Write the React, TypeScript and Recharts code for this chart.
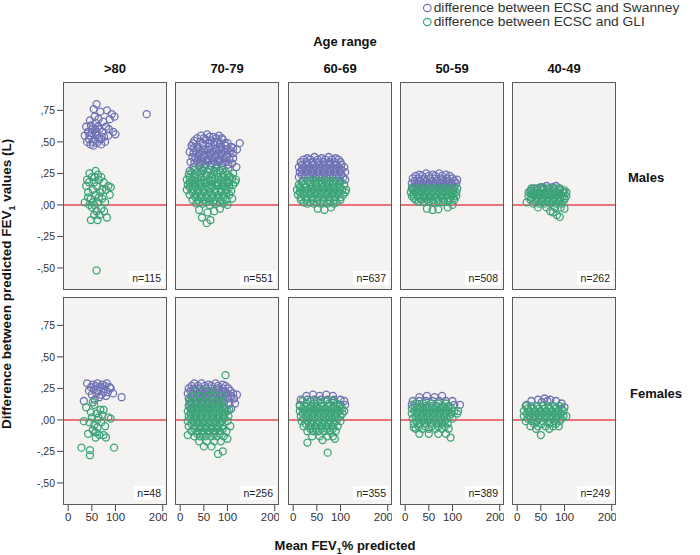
import { ScatterChart, Scatter, XAxis, YAxis, CartesianGrid, ReferenceLine } from "recharts";

const ageRanges = [">80", "70-79", "60-69", "50-59", "40-49"];
const sexes = ["Males", "Females"];
const maleCounts = [115, 551, 637, 508, 262];
const femaleCounts = [48, 256, 355, 389, 249];
const xTicks = [0, 50, 100, 150, 200];
const yTicks = [-0.5, -0.25, 0, 0.25, 0.5, 0.75];

// [mean FEV1 % predicted, difference (L)]
const maleSwanney80 = [
  [45, 0.55], [50, 0.6], [55, 0.52], [60, 0.58], [48, 0.63], [52, 0.5], [58, 0.65], [62, 0.55], [66, 0.6], [70, 0.52],
  [42, 0.58], [38, 0.62], [44, 0.52], [56, 0.7], [64, 0.68], [72, 0.58], [76, 0.54], [80, 0.62], [85, 0.55], [88, 0.68],
  [92, 0.72], [82, 0.75], [68, 0.74], [60, 0.8], [54, 0.76], [47, 0.48], [53, 0.47], [61, 0.49], [70, 0.48], [78, 0.5],
  [95, 0.58], [100, 0.56], [35, 0.55], [40, 0.5], [74, 0.66], [86, 0.6], [50, 0.57], [58, 0.56], [65, 0.53], [46, 0.67],
  [98, 0.7], [166, 0.72], [63, 0.62], [57, 0.6],
];
const maleGli80 = [
  [40, 0.2], [45, 0.25], [50, 0.22], [55, 0.18], [60, 0.15], [65, 0.2], [70, 0.22], [75, 0.18], [80, 0.12], [85, 0.15],
  [42, 0.1], [48, 0.05], [52, 0.12], [58, 0.08], [62, 0.02], [68, 0.1], [72, 0.05], [78, 0.02], [45, 0.0], [50, -0.02],
  [55, 0.0], [60, -0.05], [66, -0.08], [70, -0.03], [76, -0.05], [82, -0.1], [55, -0.08], [48, -0.12], [35, 0.02], [38, 0.15],
  [44, 0.18], [63, 0.24], [72, 0.12], [58, 0.27], [52, 0.02], [65, 0.06], [88, 0.08], [90, 0.14], [62, -0.12], [60, -0.52],
  [42, 0.06], [56, 0.22],
];
const maleSwanney70 = [
  [44, 0.55], [57, 0.56], [70, 0.54], [82, 0.55],
  [30, 0.51], [42, 0.5], [54, 0.52], [66, 0.51], [78, 0.5], [90, 0.52], [100, 0.49], [126, 0.49],
  [24, 0.47], [36, 0.46], [48, 0.47], [60, 0.46], [72, 0.48], [84, 0.46], [96, 0.47], [108, 0.46],
  [20, 0.42], [34, 0.43], [46, 0.42], [58, 0.43], [70, 0.42], [82, 0.43], [94, 0.42], [106, 0.43], [120, 0.44],
  [26, 0.38], [38, 0.39], [50, 0.38], [62, 0.39], [74, 0.38], [86, 0.39], [98, 0.38], [112, 0.37],
  [22, 0.34], [36, 0.35], [48, 0.34], [60, 0.35], [72, 0.34], [84, 0.35], [96, 0.34], [110, 0.33],
  [28, 0.3], [40, 0.31], [52, 0.3], [64, 0.31], [76, 0.3], [88, 0.31], [102, 0.29], [119, 0.3],
  [20, 0.27], [46, 0.27], [72, 0.27],
  [36, 0.53], [50, 0.53], [62, 0.54], [76, 0.53], [88, 0.53],
  [27, 0.49], [48, 0.49], [60, 0.49], [72, 0.5], [84, 0.49], [94, 0.49],
  [28, 0.45], [40, 0.45], [52, 0.44], [64, 0.45], [76, 0.44], [88, 0.45], [100, 0.44], [112, 0.45],
  [28, 0.41], [40, 0.41], [52, 0.4], [64, 0.41], [76, 0.4], [88, 0.41], [100, 0.4], [112, 0.41],
  [32, 0.37], [44, 0.37], [56, 0.36], [68, 0.37], [80, 0.36], [92, 0.37], [104, 0.36],
  [30, 0.33], [42, 0.33], [54, 0.32], [66, 0.33], [78, 0.32], [90, 0.33], [102, 0.32],
];
const maleGli70 = [
  [30, 0.28], [45, 0.29], [60, 0.28], [75, 0.29], [90, 0.28],
  [18, 0.24], [30, 0.24], [42, 0.25], [54, 0.24], [66, 0.24], [78, 0.25], [90, 0.24], [102, 0.24], [112, 0.25],
  [14, 0.2], [26, 0.2], [38, 0.21], [50, 0.2], [62, 0.2], [74, 0.21], [86, 0.2], [98, 0.2], [110, 0.21], [118, 0.2],
  [16, 0.16], [28, 0.16], [40, 0.16], [52, 0.17], [64, 0.16], [76, 0.16], [88, 0.16], [100, 0.17], [112, 0.16],
  [14, 0.12], [26, 0.12], [38, 0.12], [50, 0.12], [62, 0.13], [74, 0.12], [86, 0.12], [98, 0.12], [108, 0.11],
  [20, 0.08], [32, 0.08], [44, 0.08], [56, 0.08], [68, 0.08], [80, 0.08], [92, 0.08], [104, 0.08],
  [26, 0.04], [38, 0.04], [50, 0.04], [62, 0.04], [74, 0.04], [86, 0.04], [98, 0.04],
  [34, 0.01], [48, 0.01], [62, 0.0], [76, 0.01], [92, 0.01],
  [40, -0.04], [58, -0.06], [72, -0.05], [46, -0.1], [64, -0.12], [56, -0.145], [84, -0.03], [100, 0.0], [110, 0.05],
  [24, 0.26], [36, 0.26], [48, 0.27], [60, 0.26], [72, 0.26], [84, 0.27], [96, 0.26],
  [20, 0.22], [32, 0.22], [44, 0.22], [56, 0.23], [68, 0.22], [80, 0.22], [92, 0.22], [104, 0.22],
  [20, 0.18], [32, 0.18], [44, 0.18], [56, 0.18], [68, 0.19], [80, 0.18], [92, 0.18], [104, 0.18], [116, 0.18],
  [20, 0.14], [32, 0.14], [44, 0.14], [56, 0.14], [68, 0.14], [80, 0.15], [92, 0.14], [104, 0.14],
  [26, 0.1], [38, 0.1], [50, 0.1], [62, 0.1], [74, 0.1], [86, 0.1], [98, 0.1],
  [32, 0.06], [44, 0.06], [56, 0.06], [68, 0.06], [80, 0.06], [92, 0.06],
  [40, 0.02], [55, 0.02], [70, 0.02], [84, 0.02],
];
const maleSwanney60 = [
  [30, 0.37], [45, 0.38], [60, 0.37], [75, 0.38], [90, 0.37],
  [16, 0.34], [28, 0.34], [40, 0.34], [52, 0.34], [64, 0.34], [76, 0.34], [88, 0.34], [100, 0.34],
  [12, 0.3], [24, 0.3], [36, 0.3], [48, 0.3], [60, 0.3], [72, 0.3], [84, 0.3], [96, 0.3], [108, 0.3],
  [14, 0.26], [26, 0.26], [38, 0.26], [50, 0.26], [62, 0.26], [74, 0.26], [86, 0.26], [98, 0.26], [110, 0.26],
  [12, 0.22], [24, 0.22], [36, 0.22], [48, 0.22], [60, 0.22], [72, 0.22], [84, 0.22], [96, 0.22], [106, 0.22],
  [20, 0.19], [100, 0.19], [110, 0.2],
  [22, 0.36], [36, 0.36], [52, 0.36], [68, 0.36], [82, 0.36], [96, 0.36],
  [18, 0.32], [30, 0.32], [42, 0.32], [54, 0.32], [66, 0.32], [78, 0.32], [90, 0.32], [102, 0.32],
  [18, 0.28], [30, 0.28], [42, 0.28], [54, 0.28], [66, 0.28], [78, 0.28], [90, 0.28], [102, 0.28],
  [18, 0.24], [30, 0.24], [42, 0.24], [54, 0.24], [66, 0.24], [78, 0.24], [90, 0.24], [102, 0.24],
];
const maleGli60 = [
  [30, 0.19], [42, 0.2], [54, 0.19], [66, 0.2], [78, 0.19], [90, 0.19],
  [12, 0.16], [24, 0.16], [36, 0.16], [48, 0.16], [60, 0.16], [72, 0.16], [84, 0.16], [96, 0.16], [108, 0.16],
  [8, 0.12], [20, 0.12], [32, 0.12], [44, 0.12], [56, 0.12], [68, 0.12], [80, 0.12], [92, 0.12], [104, 0.12], [112, 0.12],
  [10, 0.08], [22, 0.08], [34, 0.08], [46, 0.08], [58, 0.08], [70, 0.08], [82, 0.08], [94, 0.08], [106, 0.08],
  [16, 0.04], [28, 0.04], [40, 0.04], [52, 0.04], [64, 0.04], [76, 0.04], [88, 0.04], [100, 0.04],
  [30, 0.01], [44, 0.01], [58, 0.01], [72, 0.01], [86, 0.01],
  [52, -0.03], [66, -0.04], [80, -0.02],
  [18, 0.18], [36, 0.18], [48, 0.18], [60, 0.18], [72, 0.18], [84, 0.18], [100, 0.18],
  [14, 0.14], [26, 0.14], [38, 0.14], [50, 0.14], [62, 0.14], [74, 0.14], [86, 0.14], [98, 0.14],
  [14, 0.1], [26, 0.1], [38, 0.1], [50, 0.1], [62, 0.1], [74, 0.1], [86, 0.1], [98, 0.1], [110, 0.1],
  [16, 0.06], [28, 0.06], [40, 0.06], [52, 0.06], [64, 0.06], [76, 0.06], [88, 0.06], [100, 0.06],
  [22, 0.02], [36, 0.02], [50, 0.02], [64, 0.02], [78, 0.02], [92, 0.02],
];
const maleSwanney50 = [
  [30, 0.24], [44, 0.25], [58, 0.24], [72, 0.25], [86, 0.24],
  [16, 0.21], [28, 0.21], [40, 0.21], [52, 0.21], [64, 0.21], [76, 0.21], [88, 0.21], [100, 0.21], [110, 0.2],
  [14, 0.17], [26, 0.17], [38, 0.17], [50, 0.17], [62, 0.17], [74, 0.17], [86, 0.17], [98, 0.17], [108, 0.17],
  [16, 0.14], [40, 0.14], [80, 0.14], [104, 0.14],
  [22, 0.23], [36, 0.23], [50, 0.23], [64, 0.23], [78, 0.23], [94, 0.23],
  [20, 0.19], [32, 0.19], [44, 0.19], [56, 0.19], [68, 0.19], [80, 0.19], [92, 0.19], [104, 0.19],
  [22, 0.15], [34, 0.15], [46, 0.15], [58, 0.15], [70, 0.15], [82, 0.15], [94, 0.15],
];
const maleGli50 = [
  [14, 0.13], [26, 0.13], [38, 0.13], [50, 0.13], [62, 0.13], [74, 0.13], [86, 0.13], [98, 0.13], [110, 0.13],
  [12, 0.1], [24, 0.1], [36, 0.1], [48, 0.1], [60, 0.1], [72, 0.1], [84, 0.1], [96, 0.1], [108, 0.1],
  [14, 0.07], [26, 0.07], [38, 0.07], [50, 0.07], [62, 0.07], [74, 0.07], [86, 0.07], [98, 0.07], [108, 0.07],
  [22, 0.04], [34, 0.04], [46, 0.04], [58, 0.04], [70, 0.04], [82, 0.04], [94, 0.04], [104, 0.04],
  [40, 0.02], [60, 0.02], [80, 0.02],
  [46, -0.03], [58, -0.04], [70, -0.035], [90, -0.02], [100, 0.0],
  [18, 0.115], [30, 0.115], [42, 0.115], [54, 0.115], [66, 0.115], [78, 0.115], [90, 0.115], [102, 0.115],
  [18, 0.085], [30, 0.085], [42, 0.085], [54, 0.085], [66, 0.085], [78, 0.085], [90, 0.085], [102, 0.085],
  [18, 0.055], [30, 0.055], [42, 0.055], [54, 0.055], [66, 0.055], [78, 0.055], [90, 0.055], [102, 0.055],
  [28, 0.025], [50, 0.025], [70, 0.025], [90, 0.025],
];
const maleSwanney40 = [
  [35, 0.13], [50, 0.14], [62, 0.15], [75, 0.14], [88, 0.13], [98, 0.1], [28, 0.11], [56, 0.13], [82, 0.15],
];
const maleGli40 = [
  [30, 0.13], [42, 0.13], [54, 0.14], [66, 0.13], [78, 0.13], [90, 0.13],
  [24, 0.1], [36, 0.1], [48, 0.1], [60, 0.1], [72, 0.1], [84, 0.1], [96, 0.1], [104, 0.1],
  [24, 0.07], [36, 0.07], [48, 0.07], [60, 0.07], [72, 0.07], [84, 0.07], [96, 0.07], [104, 0.07],
  [28, 0.04], [40, 0.04], [52, 0.04], [64, 0.04], [76, 0.04], [88, 0.04], [100, 0.04],
  [34, 0.01], [46, 0.01], [58, 0.01], [70, 0.01], [82, 0.01], [94, 0.01],
  [44, -0.02], [62, -0.02], [80, -0.02], [92, -0.02],
  [20, 0.02], [76, -0.06], [84, -0.08], [90, -0.095], [70, -0.05], [100, -0.03],
  [30, 0.115], [42, 0.115], [54, 0.115], [66, 0.115], [78, 0.115], [90, 0.115], [100, 0.115],
  [30, 0.085], [42, 0.085], [54, 0.085], [66, 0.085], [78, 0.085], [90, 0.085],
  [30, 0.055], [42, 0.055], [54, 0.055], [66, 0.055], [78, 0.055], [90, 0.055], [100, 0.055],
  [40, 0.025], [52, 0.025], [64, 0.025], [76, 0.025], [88, 0.025],
];
const femaleSwanney80 = [
  [40, 0.29], [52, 0.28], [62, 0.29], [72, 0.28], [82, 0.29], [48, 0.26], [58, 0.27], [68, 0.26], [78, 0.27], [88, 0.26],
  [44, 0.23], [54, 0.24], [64, 0.23], [74, 0.24], [84, 0.22], [50, 0.2], [60, 0.21], [70, 0.2], [80, 0.19], [66, 0.18],
  [90, 0.25], [113, 0.18], [33, 0.15], [56, 0.16], [75, 0.22], [95, 0.21],
];
const femaleGli80 = [
  [38, 0.1], [55, 0.12], [60, 0.05], [68, 0.08], [72, 0.04], [50, 0.02], [45, -0.02], [55, -0.04], [62, 0.0], [70, -0.02],
  [78, -0.05], [85, 0.02], [48, 0.06], [58, -0.1], [66, -0.12], [75, -0.12], [80, -0.14], [42, -0.11], [52, -0.08], [62, -0.06],
  [90, 0.01], [33, -0.01], [58, -0.14], [28, -0.22], [46, -0.24], [46, -0.28], [97, -0.22], [64, 0.02], [75, 0.08], [52, 0.14],
];
const femaleSwanney70 = [
  [30, 0.29], [45, 0.29], [60, 0.28], [75, 0.29], [90, 0.28],
  [18, 0.25], [30, 0.25], [42, 0.25], [54, 0.25], [66, 0.25], [78, 0.25], [90, 0.25], [102, 0.25],
  [16, 0.21], [28, 0.21], [40, 0.21], [52, 0.21], [64, 0.21], [76, 0.21], [88, 0.21], [100, 0.21], [112, 0.21], [120, 0.2],
  [18, 0.17], [30, 0.17], [42, 0.17], [54, 0.17], [66, 0.17], [78, 0.17], [90, 0.17], [102, 0.17], [114, 0.17],
  [20, 0.13], [32, 0.13], [44, 0.13], [56, 0.13], [68, 0.13], [80, 0.13], [92, 0.13], [104, 0.13], [116, 0.13],
  [24, 0.09], [60, 0.09], [96, 0.09], [108, 0.09],
  [24, 0.27], [38, 0.27], [52, 0.27], [66, 0.27], [80, 0.27], [96, 0.27],
  [22, 0.23], [34, 0.23], [46, 0.23], [58, 0.23], [70, 0.23], [82, 0.23], [94, 0.23], [106, 0.23],
  [24, 0.19], [36, 0.19], [48, 0.19], [60, 0.19], [72, 0.19], [84, 0.19], [96, 0.19], [108, 0.19],
];
const femaleGli70 = [
  [34, 0.23], [52, 0.23], [70, 0.23],
  [24, 0.19], [40, 0.19], [56, 0.19], [72, 0.19], [88, 0.19],
  [20, 0.15], [34, 0.15], [48, 0.15], [62, 0.15], [76, 0.15], [90, 0.15],
  [18, 0.11], [30, 0.11], [42, 0.11], [54, 0.11], [66, 0.11], [78, 0.11], [90, 0.11],
  [16, 0.07], [28, 0.07], [40, 0.07], [52, 0.07], [64, 0.07], [76, 0.07], [88, 0.07], [100, 0.07],
  [18, 0.03], [30, 0.03], [42, 0.03], [54, 0.03], [66, 0.03], [78, 0.03], [90, 0.03], [102, 0.03],
  [16, -0.01], [28, -0.01], [40, -0.01], [52, -0.01], [64, -0.01], [76, -0.01], [88, -0.01], [100, -0.01],
  [18, -0.05], [30, -0.05], [42, -0.05], [54, -0.05], [66, -0.05], [78, -0.05], [90, -0.05],
  [24, -0.09], [36, -0.09], [48, -0.09], [60, -0.09], [72, -0.09], [84, -0.09], [98, -0.09],
  [30, -0.13], [42, -0.13], [54, -0.13], [66, -0.13], [78, -0.13], [92, -0.13],
  [40, -0.17], [56, -0.17], [72, -0.17], [86, -0.17],
  [50, -0.21], [66, -0.21],
  [96, 0.355], [80, -0.27], [90, -0.25], [16, -0.12], [100, -0.15], [106, -0.05], [104, 0.08],
  [24, 0.13], [36, 0.13], [48, 0.13], [60, 0.13], [72, 0.13], [84, 0.13],
  [22, 0.09], [34, 0.09], [46, 0.09], [58, 0.09], [70, 0.09], [82, 0.09], [94, 0.09],
  [22, 0.05], [34, 0.05], [46, 0.05], [58, 0.05], [70, 0.05], [82, 0.05], [94, 0.05],
  [22, 0.01], [34, 0.01], [46, 0.01], [58, 0.01], [70, 0.01], [82, 0.01], [94, 0.01],
  [24, -0.03], [36, -0.03], [48, -0.03], [60, -0.03], [72, -0.03], [84, -0.03],
  [30, -0.07], [42, -0.07], [54, -0.07], [66, -0.07], [78, -0.07], [90, -0.07],
  [36, -0.11], [48, -0.11], [60, -0.11], [72, -0.11], [84, -0.11],
];
const femaleSwanney60 = [
  [28, 0.19], [42, 0.2], [56, 0.19], [70, 0.2], [84, 0.19],
  [16, 0.16], [30, 0.16], [44, 0.16], [58, 0.16], [72, 0.16], [86, 0.16], [100, 0.16], [108, 0.15],
  [14, 0.12], [100, 0.12], [110, 0.12],
];
const femaleGli60 = [
  [20, 0.15], [36, 0.15], [52, 0.15], [68, 0.15], [84, 0.15],
  [14, 0.11], [26, 0.11], [38, 0.11], [50, 0.11], [62, 0.11], [74, 0.11], [86, 0.11], [98, 0.11],
  [14, 0.07], [26, 0.07], [38, 0.07], [50, 0.07], [62, 0.07], [74, 0.07], [86, 0.07], [98, 0.07], [108, 0.07],
  [16, 0.03], [28, 0.03], [40, 0.03], [52, 0.03], [64, 0.03], [76, 0.03], [88, 0.03], [100, 0.03],
  [18, -0.01], [30, -0.01], [42, -0.01], [54, -0.01], [66, -0.01], [78, -0.01], [90, -0.01], [100, -0.01],
  [22, -0.05], [34, -0.05], [46, -0.05], [58, -0.05], [70, -0.05], [82, -0.05], [94, -0.05],
  [30, -0.09], [42, -0.09], [54, -0.09], [66, -0.09], [78, -0.09], [90, -0.09],
  [40, -0.13], [56, -0.13], [72, -0.13], [84, -0.13],
  [30, -0.18], [73, -0.26], [62, -0.16], [88, -0.15],
  [28, 0.13], [44, 0.13], [60, 0.13], [76, 0.13], [92, 0.13],
  [20, 0.09], [32, 0.09], [44, 0.09], [56, 0.09], [68, 0.09], [80, 0.09], [92, 0.09], [104, 0.09],
  [20, 0.05], [32, 0.05], [44, 0.05], [56, 0.05], [68, 0.05], [80, 0.05], [92, 0.05], [104, 0.05],
  [22, 0.01], [34, 0.01], [46, 0.01], [58, 0.01], [70, 0.01], [82, 0.01], [94, 0.01],
  [26, -0.03], [38, -0.03], [50, -0.03], [62, -0.03], [74, -0.03], [86, -0.03],
  [36, -0.07], [48, -0.07], [60, -0.07], [72, -0.07], [84, -0.07],
];
const femaleSwanney50 = [
  [30, 0.18], [46, 0.19], [62, 0.18], [78, 0.19],
  [16, 0.15], [30, 0.15], [44, 0.15], [58, 0.15], [72, 0.15], [86, 0.15], [100, 0.15],
  [104, 0.12], [116, 0.12], [14, 0.12],
];
const femaleGli50 = [
  [22, 0.13], [38, 0.13], [54, 0.13], [70, 0.13], [86, 0.13],
  [14, 0.09], [26, 0.09], [38, 0.09], [50, 0.09], [62, 0.09], [74, 0.09], [86, 0.09], [98, 0.09],
  [14, 0.05], [26, 0.05], [38, 0.05], [50, 0.05], [62, 0.05], [74, 0.05], [86, 0.05], [98, 0.05], [110, 0.05],
  [16, 0.01], [28, 0.01], [40, 0.01], [52, 0.01], [64, 0.01], [76, 0.01], [88, 0.01], [100, 0.01],
  [18, -0.03], [30, -0.03], [42, -0.03], [54, -0.03], [66, -0.03], [78, -0.03], [90, -0.03],
  [22, -0.07], [36, -0.07], [50, -0.07], [64, -0.07], [78, -0.07], [92, -0.07],
  [30, -0.11], [50, -0.11], [70, -0.11], [86, -0.11],
  [96, -0.14], [18, -0.06], [112, 0.07],
  [20, 0.11], [32, 0.11], [44, 0.11], [56, 0.11], [68, 0.11], [80, 0.11], [92, 0.11],
  [20, 0.07], [32, 0.07], [44, 0.07], [56, 0.07], [68, 0.07], [80, 0.07], [92, 0.07], [104, 0.07],
  [22, 0.03], [34, 0.03], [46, 0.03], [58, 0.03], [70, 0.03], [82, 0.03], [94, 0.03],
  [24, -0.01], [36, -0.01], [48, -0.01], [60, -0.01], [72, -0.01], [84, -0.01],
  [28, -0.05], [42, -0.05], [56, -0.05], [70, -0.05], [84, -0.05],
];
const femaleSwanney40 = [
  [30, 0.15], [44, 0.16], [58, 0.17], [70, 0.16], [82, 0.15], [94, 0.13], [20, 0.12], [100, 0.1], [52, 0.14], [64, 0.15],
];
const femaleGli40 = [
  [18, 0.11], [30, 0.11], [42, 0.11], [54, 0.11], [66, 0.11], [78, 0.11], [90, 0.11],
  [14, 0.07], [26, 0.07], [38, 0.07], [50, 0.07], [62, 0.07], [74, 0.07], [86, 0.07], [98, 0.07],
  [14, 0.03], [26, 0.03], [38, 0.03], [50, 0.03], [62, 0.03], [74, 0.03], [86, 0.03], [98, 0.03], [104, 0.03],
  [18, -0.01], [30, -0.01], [42, -0.01], [54, -0.01], [66, -0.01], [78, -0.01], [90, -0.01],
  [28, -0.05], [44, -0.05], [60, -0.05], [76, -0.05], [88, -0.05],
  [50, -0.12], [40, -0.07], [68, -0.07],
  [22, 0.09], [34, 0.09], [46, 0.09], [58, 0.09], [70, 0.09], [82, 0.09], [94, 0.09],
  [20, 0.05], [32, 0.05], [44, 0.05], [56, 0.05], [68, 0.05], [80, 0.05], [92, 0.05],
  [22, 0.01], [34, 0.01], [46, 0.01], [58, 0.01], [70, 0.01], [82, 0.01], [94, 0.01],
  [36, -0.03], [52, -0.03], [68, -0.03], [82, -0.03],
];

const swanneyByPanel = [
  [maleSwanney80, maleSwanney70, maleSwanney60, maleSwanney50, maleSwanney40],
  [femaleSwanney80, femaleSwanney70, femaleSwanney60, femaleSwanney50, femaleSwanney40],
];
const gliByPanel = [
  [maleGli80, maleGli70, maleGli60, maleGli50, maleGli40],
  [femaleGli80, femaleGli70, femaleGli60, femaleGli50, femaleGli40],
];
const countsByRow = [maleCounts, femaleCounts];

const BLUE = "#6e72b4";
const GREEN = "#3ba477";
const FONT = "'Liberation Sans', Arial, sans-serif";

const colLefts = [63, 175, 288, 400, 512];
const rowTops = [82, 297];
const PW = 104;
const PH = 208;
const YW = 42;
const XH = 30;

const toPts = (arr: number[][]) => arr.map(([x, y]) => ({ x, y }));

const ring = (color: string) => (props: any) => (
  <circle cx={props.cx} cy={props.cy} r={3.5} fill="none" stroke={color} strokeWidth={1.3} />
);

const fmtY = (v: number) => {
  const s = Math.abs(v).toFixed(2).replace("0.", ",");
  return v < 0 ? "-" + s : s;
};

function Panel({ row, col }: { row: number; col: number }) {
  const showY = col === 0;
  const showX = row === 1;
  const w = PW + (showY ? YW : 0);
  const h = PH + (showX ? XH : 0);
  const left = colLefts[col] - (showY ? YW : 0);
  const top = rowTops[row];
  return (
    <>
      <div style={{ position: "absolute", left, top, width: w, height: h }}>
        <ScatterChart width={w} height={h} margin={{ top: 0, right: 0, bottom: 0, left: 0 }}>
          <CartesianGrid horizontal={false} vertical={false} fill="#f4f3f1" />
          <XAxis
            type="number"
            dataKey="x"
            domain={[-11, 209]}
            ticks={xTicks}
            hide={!showX}
            height={XH}
            axisLine={false}
            tickLine={{ stroke: "#444" }}
            tickSize={6}
            tick={{ fontSize: 11.5, fill: "#333" }}
          />
          <YAxis
            type="number"
            dataKey="y"
            domain={[-0.675, 0.975]}
            ticks={yTicks}
            hide={!showY}
            width={YW}
            axisLine={false}
            tickLine={{ stroke: "#444" }}
            tickSize={6}
            tickFormatter={fmtY}
            tick={{ fontSize: 10.5, fill: "#333" }}
          />
          <ReferenceLine y={0} stroke="#e8737b" strokeWidth={2} />
          <Scatter data={toPts(swanneyByPanel[row][col])} shape={ring(BLUE)} isAnimationActive={false} />
          <Scatter data={toPts(gliByPanel[row][col])} shape={ring(GREEN)} isAnimationActive={false} />
        </ScatterChart>
      </div>
      <div
        style={{
          position: "absolute",
          left: colLefts[col],
          top,
          width: PW,
          height: PH,
          border: "1.5px solid #5c5a58",
          boxSizing: "border-box",
          pointerEvents: "none",
        }}
      />
      <div
        style={{
          position: "absolute",
          right: 700 - (colLefts[col] + PW) + 3,
          top: top + PH - 19,
          background: "#fff",
          fontSize: 10.5,
          padding: "1px 3px",
          color: "#222",
        }}
      >
        n={countsByRow[row][col]}
      </div>
    </>
  );
}

export default function App() {
  return (
    <div
      style={{
        position: "absolute",
        left: 0,
        top: 0,
        width: 700,
        height: 555,
        background: "#fff",
        fontFamily: FONT,
        color: "#111",
        overflow: "hidden",
      }}
    >
      {/* legend */}
      {[
        ["difference between ECSC and Swanney", BLUE, 0],
        ["difference between ECSC and GLI", GREEN, 1],
      ].map(([label, color, i]) => (
        <div
          key={label as string}
          style={{
            position: "absolute",
            left: 422,
            top: 1 + (i as number) * 14,
            display: "flex",
            alignItems: "center",
            fontSize: 13,
            lineHeight: "13px",
            height: 13,
            color: "#333",
            transform: "scaleX(1.06)",
            transformOrigin: "left center",
          }}
        >
          <svg width={10} height={10} style={{ marginRight: 1 }}>
            <circle cx={5} cy={5} r={3.6} fill="none" stroke={color as string} strokeWidth={1.1} />
          </svg>
          {label}
        </div>
      ))}

      <div style={{ position: "absolute", left: 290, width: 110, top: 34, textAlign: "center", fontWeight: "bold", fontSize: 13 }}>
        Age range
      </div>
      {ageRanges.map((a, i) => (
        <div key={a} style={{ position: "absolute", left: colLefts[i], width: PW, top: 61, textAlign: "center", fontWeight: "bold", fontSize: 13 }}>
          {a}
        </div>
      ))}
      {sexes.map((s, i) => (
        <div key={s} style={{ position: "absolute", left: i === 0 ? 628 : 630, top: i === 0 ? 170 : 386, fontWeight: "bold", fontSize: 13 }}>
          {s}
        </div>
      ))}

      {[0, 1].map((r) => [0, 1, 2, 3, 4].map((c) => <Panel key={`${r}-${c}`} row={r} col={c} />))}

      <div style={{ position: "absolute", left: 195, width: 300, top: 538, textAlign: "center", fontWeight: "bold", fontSize: 13 }}>
        Mean FEV<sub style={{ fontSize: 9 }}>1</sub>% predicted
      </div>
      <div
        style={{
          position: "absolute",
          left: 8 - 200,
          top: 284 - 9,
          width: 400,
          textAlign: "center",
          fontWeight: "bold",
          fontSize: 13.5,
          transform: "rotate(-90deg)",
          whiteSpace: "nowrap",
        }}
      >
        Difference between predicted FEV<sub style={{ fontSize: 9 }}>1</sub> values (L)
      </div>
    </div>
  );
}
